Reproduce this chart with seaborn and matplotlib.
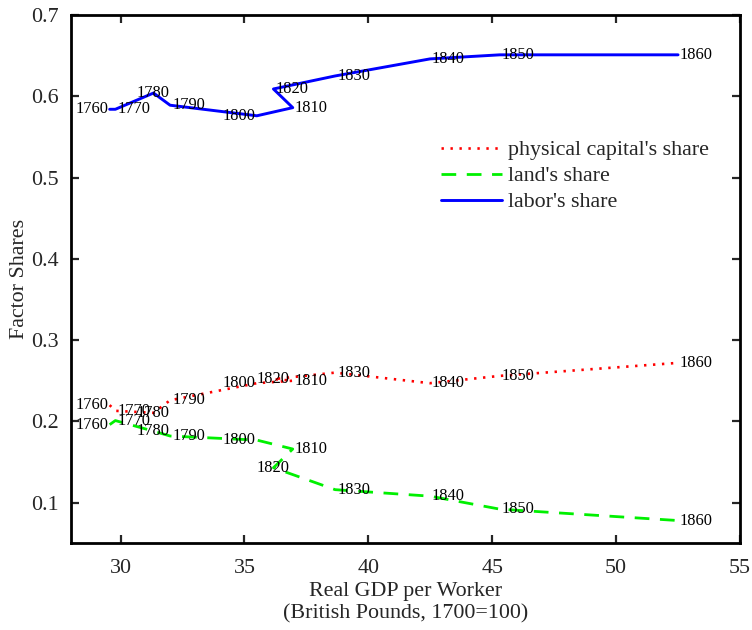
import matplotlib
matplotlib.use("Agg")
import matplotlib.pyplot as plt
import seaborn as sns
import pandas as pd

years = [1760, 1770, 1780, 1790, 1800, 1810, 1820, 1830, 1840, 1850, 1860]
gdp = [29.56, 29.79, 31.33, 32.0, 35.5, 36.95, 36.17, 38.66, 42.49, 45.31, 52.5]
capital_share = [0.220, 0.213, 0.2105, 0.226, 0.247, 0.250, 0.252, 0.260, 0.247, 0.256, 0.272]
land_share = [0.196, 0.201, 0.188, 0.182, 0.177, 0.166, 0.143, 0.116, 0.108, 0.092, 0.078]
labor_share = [0.584, 0.584, 0.604, 0.589, 0.576, 0.586, 0.609, 0.625, 0.646, 0.651, 0.651]

series_names = ["physical capital's share", "land's share", "labor's share"]
label_align_labor = ["r", "l", "c", "l", "r", "l", "l", "l", "l", "l", "l"]
label_align_capital = ["r", "l", "c", "l", "r", "l", "c", "l", "l", "l", "l"]
label_align_land = ["r", "l", "c", "l", "r", "l", "c", "l", "l", "l", "l"]

sns.set_style("ticks")
plt.rcParams["font.family"] = ["Liberation Serif", "DejaVu Serif"]

FS = 15.8

fig = plt.figure(figsize=(7.52, 6.30), dpi=100)
ax = fig.add_axes([71 / 752, 1 - 543.3 / 630, (740 - 71) / 752, (543.3 - 15) / 630])

df_cap = pd.DataFrame({"gdp": gdp, "share": capital_share})
df_land = pd.DataFrame({"gdp": gdp, "share": land_share})
df_lab = pd.DataFrame({"gdp": gdp, "share": labor_share})

sns.lineplot(data=df_cap, x="gdp", y="share", sort=False, estimator=None, ax=ax,
             color="#FF0000", lw=1.9, label=series_names[0])
sns.lineplot(data=df_land, x="gdp", y="share", sort=False, estimator=None, ax=ax,
             color="#00F000", lw=2.0, label=series_names[1])
sns.lineplot(data=df_lab, x="gdp", y="share", sort=False, estimator=None, ax=ax,
             color="#0000FF", lw=2.1, label=series_names[2])

lines = ax.get_lines()
lines[0].set_linestyle((0, (0.9, 2.5)))
lines[1].set_linestyle((0, (5.3, 3.8)))
lines[2].set_linestyle("-")

ha_map = {"l": "left", "r": "right", "c": "center"}
off_map = {"l": 2, "r": -1, "c": 0}
for shares, aligns in [(labor_share, label_align_labor),
                       (capital_share, label_align_capital),
                       (land_share, label_align_land)]:
    for xv, yv, yr, al in zip(gdp, shares, years, aligns):
        ax.annotate(str(yr), (xv, yv), xytext=(off_map[al], 0), textcoords="offset pixels",
                    ha=ha_map[al], va="center", fontsize=11.8, color="black", zorder=5)

ax.set_xlim(28, 55)
ax.set_ylim(0.05, 0.7)
ax.set_xticks([30, 35, 40, 45, 50, 55])
ax.set_yticks([0.1, 0.2, 0.3, 0.4, 0.5, 0.6, 0.7])
ax.tick_params(direction="in", length=6, width=1.6, top=True, right=True,
               labelsize=FS, pad=9)
ax.tick_params(axis="x", pad=11)
ax.set_xticklabels(["30", "35", "40", "45", "50", "55"])
ax.set_yticklabels(["0.1", "0.2", "0.3", "0.4", "0.5", "0.6", "0.7"])
for s in ax.spines.values():
    s.set_visible(True)
    s.set_linewidth(2.0)
    s.set_color("black")

ax.set_xlabel("Real GDP per Worker\n(British Pounds, 1700=100)", fontsize=FS, linespacing=1.27, labelpad=3)
ax.set_ylabel("Factor Shares", fontsize=FS, labelpad=1)

leg = ax.legend(loc="upper left", bbox_to_anchor=(0.54, 0.78), frameon=False, fontsize=FS,
                handlelength=2.8, handletextpad=0.25, labelspacing=0.26, borderaxespad=0)

fig.savefig("out.png", dpi=100)
